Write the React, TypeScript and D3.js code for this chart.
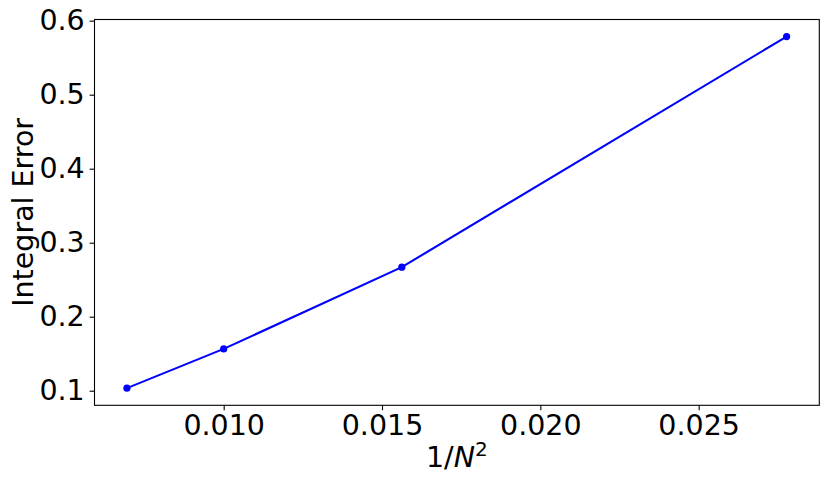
import React, { useRef, useEffect } from "react";
import * as d3 from "d3";

// x = 1/N^2 for N = 12, 10, 8, 6
const invNSquared = [1 / 144, 1 / 100, 1 / 64, 1 / 36];
const integralError = [0.1035, 0.1565, 0.267, 0.5785];
const xTicks = [0.01, 0.015, 0.02, 0.025];
const yTicks = [0.1, 0.2, 0.3, 0.4, 0.5, 0.6];

const W = 830;
const H = 485;
const FONT = "'DejaVu Sans', sans-serif";
const FS = "28.5px";

const App = () => {
  const ref = useRef<SVGSVGElement>(null);

  useEffect(() => {
    const margin = { top: 19.5, right: 10.7, bottom: 79.7, left: 94.5 };
    const width = W - margin.left - margin.right;
    const height = H - margin.top - margin.bottom;

    const svg = d3.select(ref.current);
    svg.selectAll("*").remove();

    const g = svg
      .append("g")
      .attr("transform", `translate(${margin.left},${margin.top})`);

    const x = d3.scaleLinear().domain([0.00592, 0.02881]).range([0, width]);
    const y = d3.scaleLinear().domain([0.0803, 0.6016]).range([height, 0]);

    // ticks
    const xAxis = g
      .append("g")
      .attr("transform", `translate(0,${height})`)
      .call(
        d3.axisBottom(x).tickValues(xTicks).tickFormat(d3.format(".3f")).tickSize(4.9).tickPadding(4.9)
      );
    const yAxis = g
      .append("g")
      .call(d3.axisLeft(y).tickValues(yTicks).tickFormat(d3.format(".1f")).tickSize(4.9).tickPadding(4.9));

    [xAxis, yAxis].forEach((a) => {
      a.select(".domain").remove();
      a.selectAll("line").attr("stroke", "#000").attr("stroke-width", 1.1);
      a.selectAll("text")
        .attr("fill", "#000")
        .style("font-family", FONT)
        .style("font-size", FS);
    });

    // frame
    g.append("rect")
      .attr("width", width)
      .attr("height", height)
      .attr("fill", "none")
      .attr("stroke", "#000")
      .attr("stroke-width", 1.1);

    const pts = invNSquared.map((v, i) => [v, integralError[i]] as [number, number]);
    const line = d3
      .line<[number, number]>()
      .x((d) => x(d[0]))
      .y((d) => y(d[1]));

    g.append("path")
      .datum(pts)
      .attr("fill", "none")
      .attr("stroke", "#0000ff")
      .attr("stroke-width", 2.1)
      .attr("d", line);

    g.selectAll("circle.pt")
      .data(pts)
      .enter()
      .append("circle")
      .attr("class", "pt")
      .attr("cx", (d) => x(d[0]))
      .attr("cy", (d) => y(d[1]))
      .attr("r", 3.6)
      .attr("fill", "#0000ff");

    // axis labels
    const xl = svg
      .append("text")
      .attr("x", margin.left + width / 2)
      .attr("y", 467)
      .attr("text-anchor", "middle")
      .style("font-family", FONT)
      .style("font-size", FS);
    xl.append("tspan").text("1/");
    xl.append("tspan").attr("font-style", "italic").text("N");
    xl.append("tspan").attr("dy", -11).style("font-size", "20px").text("2");

    svg
      .append("text")
      .attr("transform", `translate(33.3,${margin.top + height / 2}) rotate(-90)`)
      .attr("text-anchor", "middle")
      .style("font-family", FONT)
      .style("font-size", FS)
      .text("Integral Error");
  }, []);

  return (
    <svg
      ref={ref}
      width={W}
      height={H}
      style={{ position: "absolute", left: 0, top: 0, background: "#fff" }}
    ></svg>
  );
};

export default App;
